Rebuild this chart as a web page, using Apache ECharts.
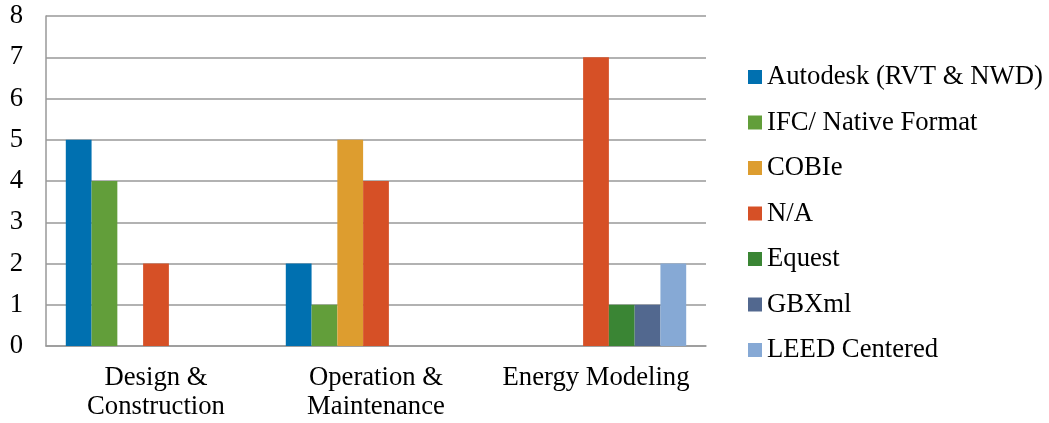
<!DOCTYPE html>
<html>
<head>
<meta charset="utf-8">
<script src="https://cdn.jsdelivr.net/npm/echarts@6/dist/echarts.min.js"></script>
<style>
  html, body { margin: 0; padding: 0; background: #fff; }
  #chart { width: 1049px; height: 423px; }
</style>
</head>
<body>
<div id="chart"></div>
<script>
// Exchange formats used per project phase
const categories = ['Design &\nConstruction', 'Operation &\nMaintenance', 'Energy Modeling'];
const seriesNames = ['Autodesk (RVT & NWD)', 'IFC/ Native Format', 'COBIe', 'N/A', 'Equest', 'GBXml', 'LEED Centered'];
const autodesk = [5, 2, 0];
const ifcNative = [4, 1, 0];
const cobie = [0, 5, 0];
const notApplicable = [2, 4, 7];
const equest = [0, 0, 1];
const gbxml = [0, 0, 1];
const leed = [0, 0, 2];
const yTicks = [0, 1, 2, 3, 4, 5, 6, 7, 8];

const values = [autodesk, ifcNative, cobie, notApplicable, equest, gbxml, leed];
const colors = ['#0070B0', '#629E3A', '#DD9D2F', '#D65026', '#3A8534', '#52688F', '#86A9D5'];
const font = 'Liberation Serif, Times New Roman, serif';

const chart = echarts.init(document.getElementById('chart'), null, { renderer: 'canvas' });
chart.setOption({
  animation: false,
  backgroundColor: '#fff',
  color: colors,
  grid: { left: 46, right: 343, top: 16, bottom: 77, containLabel: false },
  legend: {
    orient: 'vertical',
    left: 748,
    top: 63.5,
    padding: 0,
    icon: 'rect',
    itemWidth: 14,
    itemHeight: 14,
    itemGap: 18.5,
    data: seriesNames,
    textStyle: { fontFamily: font, fontSize: 26.7, color: '#000', lineHeight: 27 }
  },
  xAxis: {
    type: 'category',
    data: categories,
    axisLine: { show: true, lineStyle: { color: '#999', width: 1.5 } },
    axisTick: { show: false },
    axisLabel: { fontFamily: font, fontSize: 26.7, color: '#000', lineHeight: 29, margin: 17.5, interval: 0 }
  },
  yAxis: {
    type: 'value',
    min: yTicks[0],
    max: yTicks[yTicks.length - 1],
    interval: 1,
    axisLine: { show: true, lineStyle: { color: '#999', width: 1.5 } },
    axisTick: { show: false },
    splitLine: { show: true, lineStyle: { color: '#999', width: 1.5 } },
    axisLabel: { fontFamily: font, fontSize: 26.7, color: '#000', margin: 23 }
  },
  series: seriesNames.map((name, i) => ({
    name: name,
    type: 'bar',
    data: values[i],
    barGap: '0%',
    barCategoryGap: '18%',
    itemStyle: { color: colors[i] }
  }))
});
</script>
</body>
</html>
